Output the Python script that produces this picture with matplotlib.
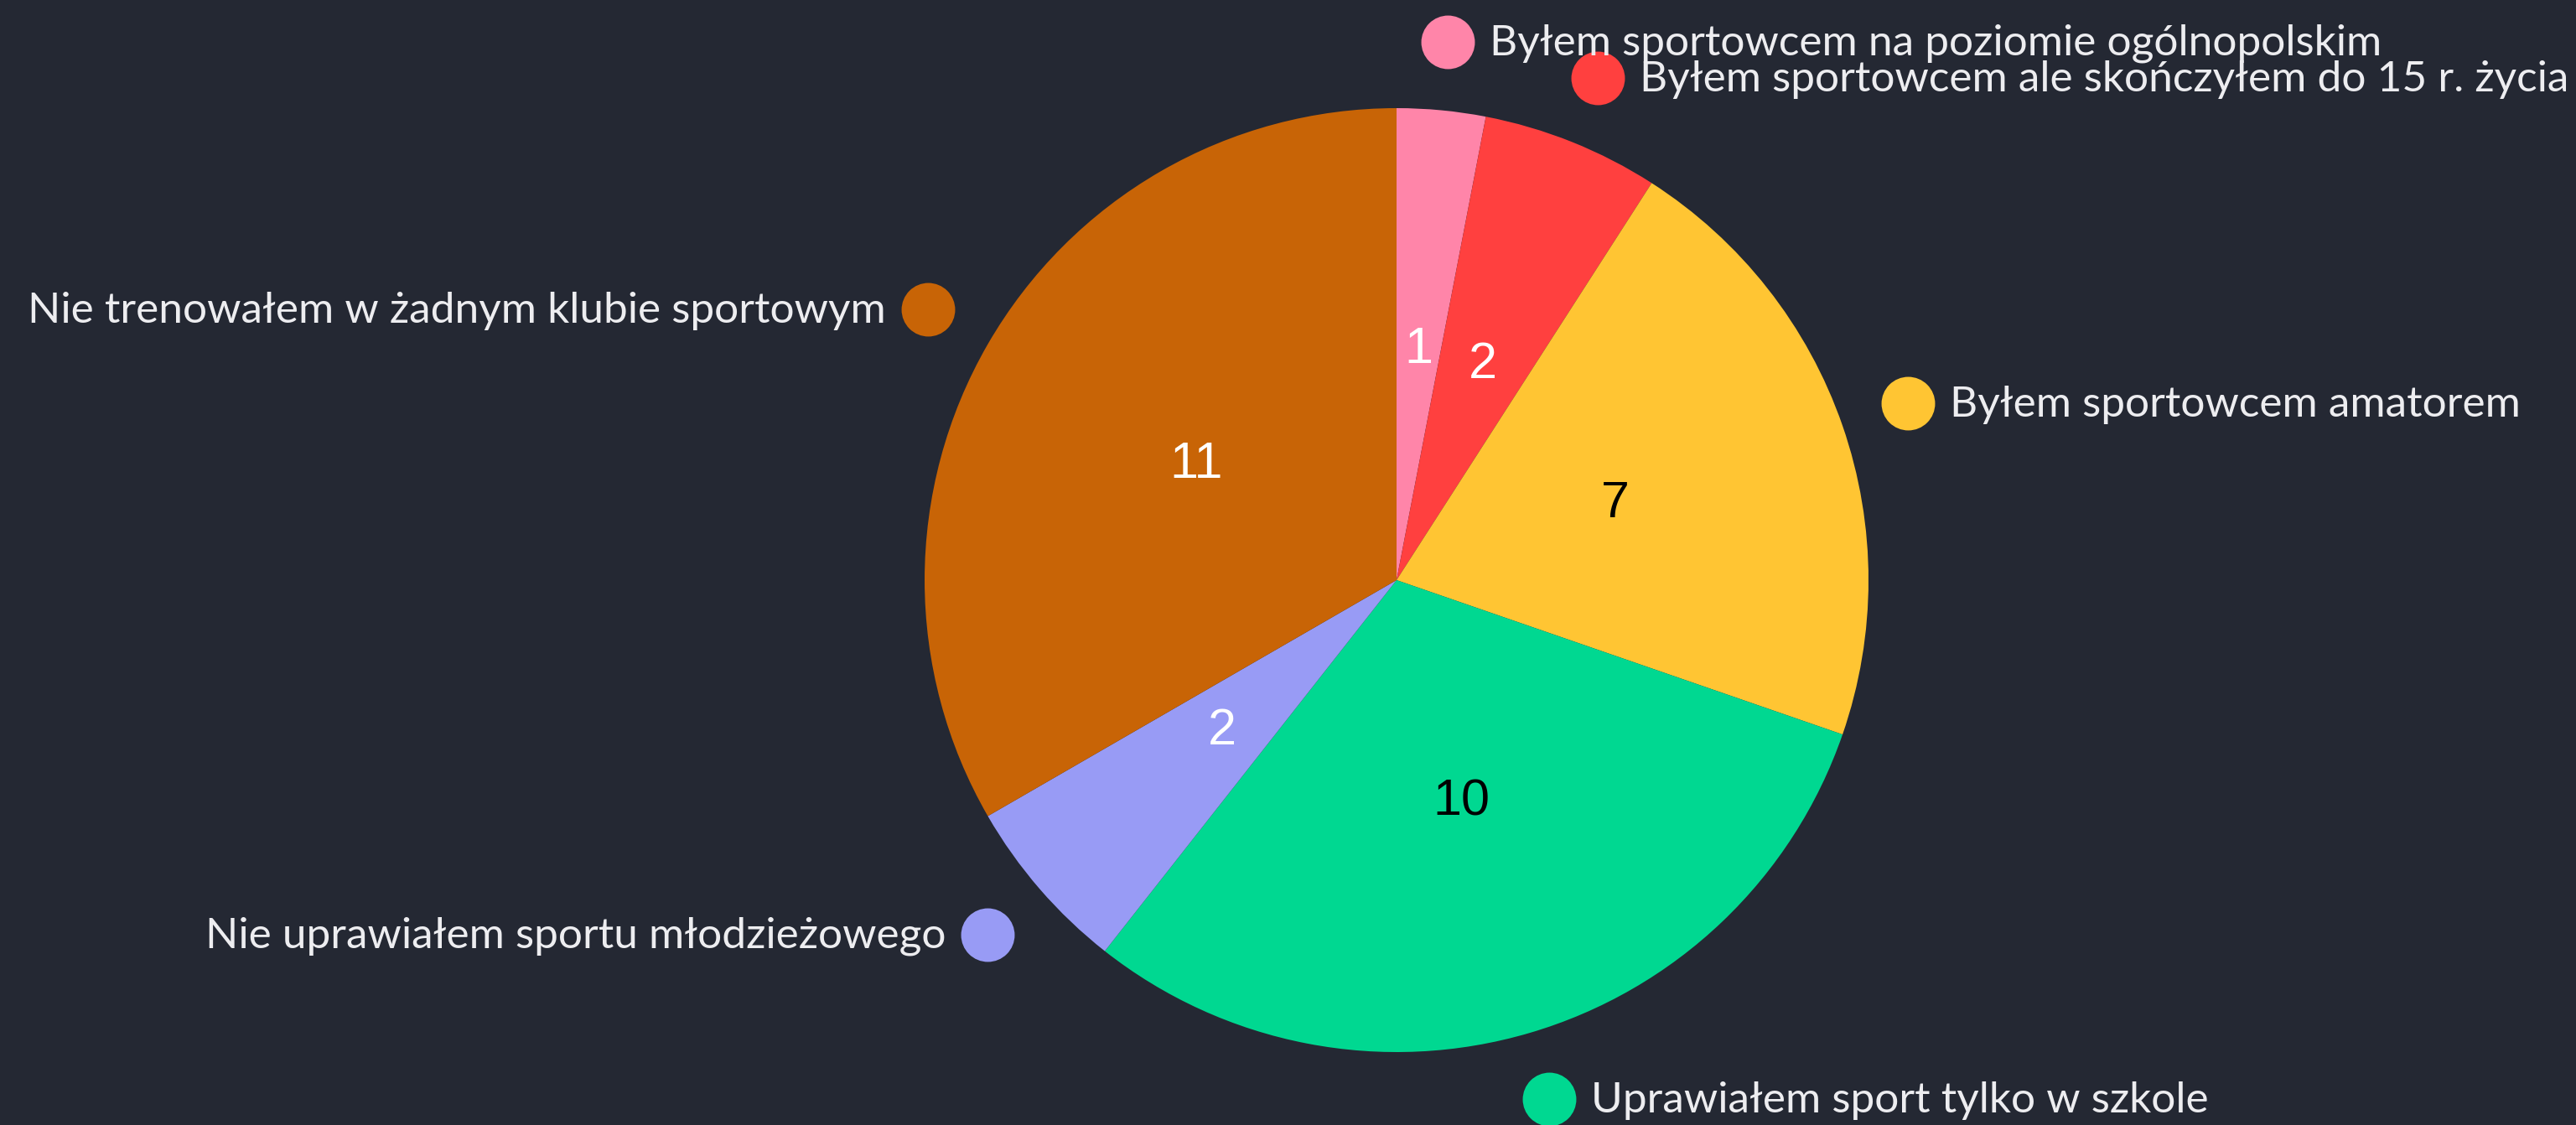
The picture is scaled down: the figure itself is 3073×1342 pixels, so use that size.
import numpy as np
import matplotlib.pyplot as plt

# Dane
etykiety = [
    'Byłem sportowcem na poziomie ogólnopolskim',
    'Byłem sportowcem ale skończyłem do 15 r. życia',
    'Byłem sportowcem amatorem',
    'Uprawiałem sport tylko w szkole',
    'Nie uprawiałem sportu młodzieżowego',
    'Nie trenowałem w żadnym klubie sportowym',
]
wartosci = [1, 2, 7, 10, 2, 11]
kolory = ['#FF85A9', '#FF403F', '#FFC533', '#00D891', '#989BF5', '#C86406']
kolory_liczb = ['white', 'white', 'black', 'black', 'white', 'white']

tlo = '#242833'

fig = plt.figure(figsize=(30.73, 13.42), dpi=100, facecolor=tlo)
ax = fig.add_axes([0, 0, 1, 1])
ax.set_facecolor(tlo)

cx, cy, r = 1666, 650, 563

wedges, _ = ax.pie(wartosci, colors=kolory, startangle=90, counterclock=False,
                   center=(cx, cy), radius=r, frame=True)
ax.set_xlim(0, 3073)
ax.set_ylim(0, 1342)
ax.set_aspect('equal')
ax.axis('off')

# Liczby w wycinkach i etykiety z kropkami
for w, v, kl, et, kol in zip(wedges, wartosci, kolory_liczb, etykiety, kolory):
    kat = np.deg2rad((w.theta1 + w.theta2) / 2)
    x_in = cx + 0.49 * r * np.cos(kat)
    y_in = cy + 0.49 * r * np.sin(kat)
    ax.text(x_in, y_in, str(v), color=kl, fontsize=44, ha='center', va='center',
            family='Liberation Sans')

    xm = cx + 1.146 * r * np.cos(kat)
    ym = cy + 1.146 * r * np.sin(kat)
    ax.plot(xm, ym, 'o', color=kol, markersize=46, markeredgewidth=0)
    if np.cos(kat) >= 0:
        ax.text(xm + 50, ym - 2, et, color='#EDEDF0', fontsize=37, ha='left', va='center',
                family='Lato')
    else:
        ax.text(xm - 50, ym - 2, et, color='#EDEDF0', fontsize=37, ha='right', va='center',
                family='Lato')

fig.savefig('out.png', dpi=100, facecolor=tlo)
